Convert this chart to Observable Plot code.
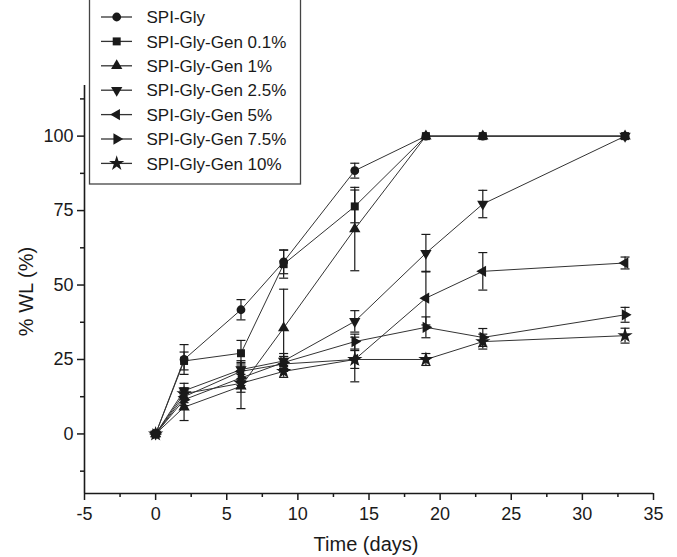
<!DOCTYPE html>
<html><head><meta charset="utf-8">
<script src="https://cdn.jsdelivr.net/npm/d3@7"></script>
<script src="https://cdn.jsdelivr.net/npm/@observablehq/plot@0.6"></script>
<style>
body{margin:0;background:#fff;}
#chart{position:relative;width:677px;height:557px;overflow:hidden;}
</style></head><body><div id="chart"></div>
<script>
const days = [0, 2, 6, 9, 14, 19, 23, 33];
const seriesNames = ["SPI-Gly", "SPI-Gly-Gen 0.1%", "SPI-Gly-Gen 1%", "SPI-Gly-Gen 2.5%", "SPI-Gly-Gen 5%", "SPI-Gly-Gen 7.5%", "SPI-Gly-Gen 10%"];
const glyValues    = [0, 25.0, 41.7, 57.8, 88.4, 100, 100, 100];
const glyErr       = [0, 5.0, 3.4, 4.0, 2.5, 0, 0, 0];
const gen01Values  = [0, 24.5, 27.1, 57.0, 76.4, 100, 100, 100];
const gen01Err     = [0, 3.0, 4.3, 4.7, 5.5, 0, 0, 0];
const gen1Values   = [0, 9.0, 16.0, 35.6, 68.8, 100, 100, 100];
const gen1Err      = [0, 4.5, 7.5, 13.0, 14.0, 0, 0, 0];
const gen25Values  = [0, 14.5, 21.6, 24.5, 37.8, 60.7, 77.2, 100];
const gen25Err     = [0, 2.5, 3.0, 2.5, 3.6, 6.3, 4.6, 0];
const gen5Values   = [0, 12.5, 21.0, 23.5, 25.0, 45.6, 54.6, 57.4];
const gen5Err      = [0, 2.0, 3.0, 2.5, 3.0, 9.0, 6.3, 2.0];
const gen75Values  = [0, 11.5, 18.8, 24.0, 31.0, 35.8, 32.4, 40.0];
const gen75Err     = [0, 2.0, 2.5, 2.0, 2.5, 3.5, 3.0, 2.5];
const gen10Values  = [0, 13.5, 17.0, 21.0, 25.0, 25.0, 31.0, 33.0];
const gen10Err     = [0, 2.0, 3.0, 2.0, 7.5, 2.0, 2.5, 2.5];
const xTicks = [-5, 0, 5, 10, 15, 20, 25, 30, 35];
const xMinor = [-2.5, 2.5, 7.5, 12.5, 17.5, 22.5, 27.5, 32.5];
const yTicks = [0, 25, 50, 75, 100];
const yMinor = [-12.5, 12.5, 37.5, 62.5, 87.5, 112.5];
const xDomain = [-5, 35];
const yDomain = [-20, 117];

const allValues = [glyValues, gen01Values, gen1Values, gen25Values, gen5Values, gen75Values, gen10Values];
const allErr = [glyErr, gen01Err, gen1Err, gen25Err, gen5Err, gen75Err, gen10Err];
const symbols = [
  {type: "circle", rotate: 0, r: 4.4},
  {type: "square", rotate: 0, r: 4.5},
  {type: "triangle", rotate: 0, r: 4.2},
  {type: "triangle", rotate: 180, r: 4.2},
  {type: "triangle", rotate: -90, r: 4.2},
  {type: "triangle", rotate: 90, r: 4.2},
  {type: "star", rotate: 0, r: 4.8}
];
const d3Sym = {circle: d3.symbolCircle, square: d3.symbolSquare, triangle: d3.symbolTriangle, star: d3.symbolStar};

const table = [];
allValues.forEach((vals, si) => vals.forEach((v, i) => table.push({series: seriesNames[si], si, day: days[i], v, err: allErr[si][i]})));
const errRows = table.filter(d => d.err > 0);

const capSymbol = {draw(ctx, size) { const r = Math.sqrt(size / Math.PI); ctx.moveTo(-r, 0); ctx.lineTo(r, 0); }};
const ink = "#1a1a1a";
const font = "'Liberation Sans', Arial, sans-serif";

const marks = [
  Plot.ruleX([xDomain[0]], {stroke: ink, strokeWidth: 1.6}),
  Plot.ruleY([yDomain[0]], {stroke: ink, strokeWidth: 1.6}),
  Plot.axisX({ticks: xTicks, tickSize: 7, tickPadding: 7, label: null, tickFormat: d => String(d), strokeWidth: 1.5, stroke: ink, fill: ink, fontSize: 18}),
  Plot.axisX({ticks: xMinor, tickSize: 4, label: null, tickFormat: () => "", strokeWidth: 1.5, stroke: ink}),
  Plot.axisY({ticks: yTicks, tickSize: 7, tickPadding: 4, label: null, tickFormat: d => String(d), strokeWidth: 1.5, stroke: ink, fill: ink, fontSize: 18}),
  Plot.axisY({ticks: yMinor, tickSize: 4, label: null, tickFormat: () => "", strokeWidth: 1.5, stroke: ink}),
  Plot.text(["Time (days)"], {frameAnchor: "bottom", lineAnchor: "middle", textAnchor: "middle", dy: 51, dx: -3, fontSize: 20, fill: ink}),
  Plot.text(["% WL (%)"], {frameAnchor: "left", lineAnchor: "middle", textAnchor: "middle", rotate: -90, dx: -58, dy: 2, fontSize: 20, fill: ink}),
  Plot.line(table, {x: "day", y: "v", z: "series", stroke: "#333", strokeWidth: 1}),
  Plot.ruleX(errRows, {x: "day", y1: d => d.v - d.err, y2: d => d.v + d.err, stroke: ink, strokeWidth: 1.2}),
  Plot.dot(errRows, {x: "day", y: d => d.v - d.err, symbol: capSymbol, r: 4.5, fill: "none", stroke: ink, strokeWidth: 1.2}),
  Plot.dot(errRows, {x: "day", y: d => d.v + d.err, symbol: capSymbol, r: 4.5, fill: "none", stroke: ink, strokeWidth: 1.2})
];
symbols.forEach((s, si) => {
  marks.push(Plot.dot(table.filter(d => d.si === si), {x: "day", y: "v", symbol: s.type, r: s.r, rotate: s.rotate, fill: ink, stroke: "none"}));
});

const plot = Plot.plot({
  width: 677, height: 557,
  marginLeft: 84, marginRight: 24, marginTop: 85, marginBottom: 64,
  style: {fontFamily: font, fontSize: "18px", color: ink, background: "white", overflow: "visible"},
  x: {domain: xDomain},
  y: {domain: yDomain},
  marks
});
document.getElementById("chart").appendChild(plot);

// legend
const svg = d3.select(plot);
const lg = svg.append("g").attr("class", "legend").attr("text-anchor", "start");
lg.append("rect").attr("x", 89.5).attr("y", -3).attr("width", 211).attr("height", 187)
  .attr("fill", "white").attr("stroke", "#444").attr("stroke-width", 1.3);
seriesNames.forEach((name, i) => {
  const cy = 17 + i * 24.4;
  const row = lg.append("g").attr("transform", `translate(0,${cy})`);
  row.append("line").attr("x1", 101).attr("x2", 132).attr("y1", 0).attr("y2", 0).attr("stroke", "#333").attr("stroke-width", 1.3);
  const s = symbols[i];
  row.append("path").attr("d", d3.symbol(d3Sym[s.type], Math.PI * s.r * s.r)())
    .attr("transform", `translate(116.7,0) rotate(${s.rotate})`).attr("fill", ink);
  row.append("text").attr("x", 146.5).attr("y", 0).attr("dy", "0.36em").attr("text-anchor", "start")
    .attr("font-family", font).attr("font-size", 17).attr("fill", ink).text(name);
});
</script></body></html>
